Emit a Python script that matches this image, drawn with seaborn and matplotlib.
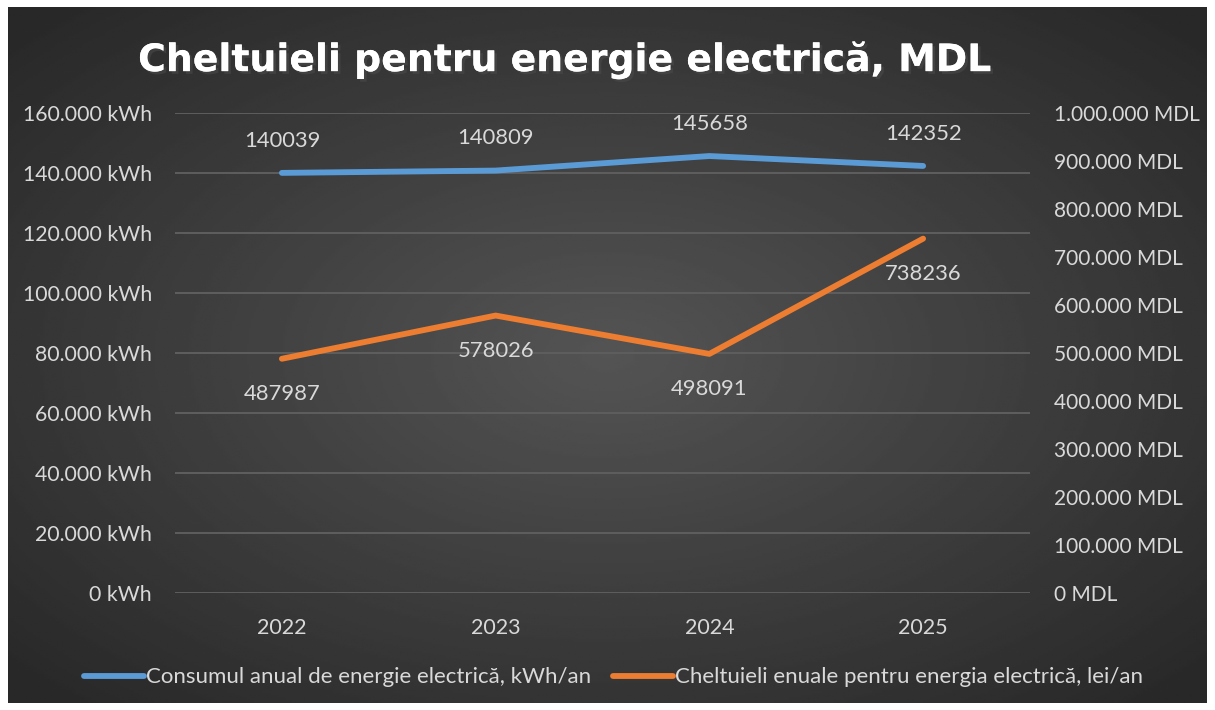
import numpy as np
import pandas as pd
import matplotlib
matplotlib.use("Agg")
import matplotlib.pyplot as plt
import matplotlib.patheffects as pe
import seaborn as sns
from matplotlib.lines import Line2D

years = ["2022", "2023", "2024", "2025"]
consum_kwh = [140039, 140809, 145658, 142352]
cheltuieli_mdl = [487987, 578026, 498091, 738236]
kwh_ticks = list(range(0, 160001, 20000))
mdl_ticks = list(range(0, 1000001, 100000))
title = "Cheltuieli pentru energie electrică, MDL"
label_kwh = "Consumul anual de energie electrică, kWh/an"
label_mdl = "Cheltuieli enuale pentru energia electrică, lei/an"

blue = "#5B9BD5"
orange = "#ED7D31"
txt = "#D9D9D9"

sns.set_theme(style="dark")
plt.rcParams["font.family"] = ["Lato", "DejaVu Sans"]


def fmt(v):
    return f"{v:,}".replace(",", ".")


df = pd.DataFrame({"an": years, "kwh": consum_kwh, "mdl": cheltuieli_mdl})
df["x"] = np.arange(len(years))

fig = plt.figure(figsize=(12.15, 7.1), dpi=100, facecolor="white")

# radial gradient background
bg = fig.add_axes([8 / 1215, 7 / 710, 1199 / 1215, 696 / 710])
yy, xx = np.mgrid[-1:1:300j, -1:1:500j]
r = np.sqrt(xx ** 2 + yy ** 2)
shade = 0.33 - 0.17 * np.clip(r / 1.35, 0, 1)
bg.imshow(shade, cmap="gray", vmin=0, vmax=1, aspect="auto", extent=[0, 1, 0, 1])
bg.axis("off")

ax = fig.add_axes([175 / 1215, 117 / 710, 855 / 1215, 480 / 710])
ax.patch.set_alpha(0)
ax2 = ax.twinx()

sns.lineplot(data=df, x="x", y="kwh", ax=ax, color=blue, lw=4.2,
             solid_capstyle="round", solid_joinstyle="round")
sns.lineplot(data=df, x="x", y="mdl", ax=ax2, color=orange, lw=4.2,
             solid_capstyle="round", solid_joinstyle="round")

ax.set_xlim(-0.5, 3.5)
ax.set_ylim(0, 160000)
ax2.set_ylim(0, 1000000)
ax.set_yticks(kwh_ticks)
ax.set_yticklabels([fmt(v) + " kWh" for v in kwh_ticks], color=txt, fontsize=15.3)
ax2.set_yticks(mdl_ticks)
ax2.set_yticklabels([fmt(v) + " MDL" for v in mdl_ticks], color=txt, fontsize=15)
ax.set_xticks(df["x"])
ax.set_xticklabels(years, color=txt, fontsize=15.5)
ax.tick_params(axis="x", pad=18, length=0)
ax.tick_params(axis="y", pad=16.5, length=0)
ax2.tick_params(axis="y", pad=17, length=0)
ax.set_xlabel("")
ax.set_ylabel("")
ax2.set_ylabel("")
for a in (ax, ax2):
    for s in a.spines.values():
        s.set_visible(False)
ax.grid(axis="y", color="#5E5E5E", lw=1.4)
ax.grid(axis="x", visible=False)
ax2.grid(False)

for x, v in zip(df["x"], consum_kwh):
    ax.annotate(str(v), (x, v), xytext=(0, 16), textcoords="offset points",
                ha="center", va="bottom", color=txt, fontsize=15.8)
for x, v in zip(df["x"], cheltuieli_mdl):
    ax2.annotate(str(v), (x, v), xytext=(0, -18), textcoords="offset points",
                 ha="center", va="top", color=txt, fontsize=15.8)

# title: fit to the width of the original (spaced out) heading
t = fig.text(0.464, 0.915, title, ha="center", va="center", color="white",
             fontsize=27, fontweight="bold", family=["DejaVu Sans"],
             path_effects=[pe.withSimplePatchShadow(offset=(2, -2), alpha=0.5),
                           pe.Normal()])
fig.canvas.draw()
w = t.get_window_extent().width
t.set_fontsize(27 * 853 / w)

handles = [Line2D([], [], color=blue, lw=4.2, solid_capstyle="round"),
           Line2D([], [], color=orange, lw=4.2, solid_capstyle="round")]
fig.legend(handles, [label_kwh, label_mdl], loc="center", ncol=2,
           bbox_to_anchor=(0.505, 0.046), frameon=False, fontsize=16,
           labelcolor=txt, handlelength=2.7, handletextpad=0.1, columnspacing=1.0)

fig.savefig("out.png", dpi=100, facecolor="white")
